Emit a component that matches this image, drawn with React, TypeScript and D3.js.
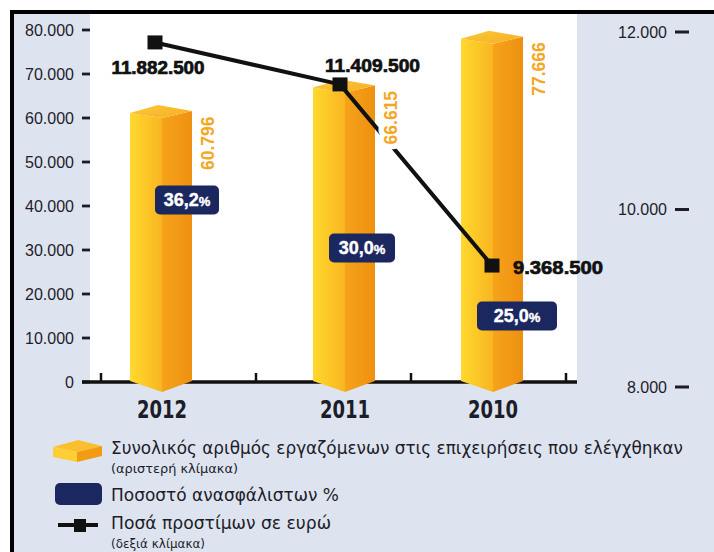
import React from 'react';
import * as d3 from 'd3';

// ---------- data ----------
const years = ['2012', '2011', '2010'];
const employees = [60796, 66615, 77666]; // left scale
const uninsuredPct = [36.2, 30.0, 25.0]; // %
const fines = [11882500, 11409500, 9368500]; // euros, right scale (thousands)
const leftTicks = [0, 10000, 20000, 30000, 40000, 50000, 60000, 70000, 80000];
const rightTicks = [8000, 10000, 12000];
const legendMain = [
  'Συνολικός αριθμός εργαζόμενων στις επιχειρήσεις που ελέγχθηκαν',
  'Ποσοστό ανασφάλιστων %',
  'Ποσά προστίμων σε ευρώ',
];
const legendSub = ['(αριστερή κλίμακα)', '', '(δεξιά κλίμακα)'];

// ---------- layout ----------
const W = 714;
const H = 552;
const BG = '#dde4f0';
const NAVY = '#1b275f';
const ORANGE_TXT = '#f5a623';
const DARK = '#1d1d29';
const NARROW = "'Liberation Sans Narrow', 'DejaVu Sans Condensed', 'Liberation Sans', sans-serif";
const SANS = "'Liberation Sans', Arial, sans-serif";

const locale = d3.formatLocale({ decimal: ',', thousands: '.', grouping: [3], currency: ['', '€'] });
const fmtInt = locale.format(',d');
const fmtPct = locale.format('.1f');

const yL = d3.scaleLinear().domain([0, 80000]).range([382, 30]);
const yR = d3.scaleLinear().domain([8000, 12000]).range([387, 32]);
const xBar = d3.scaleOrdinal<string, number>().domain(years).range([162, 345, 493]);
const xLine = d3.scaleOrdinal<string, number>().domain(years).range([155, 340, 492]);
const xPct = d3.scaleOrdinal<string, number>().domain(years).range([187, 362, 517]);
const yPct = d3.scaleLinear().domain([25, 30, 36.2]).range([316, 248, 200]);
const pctBoxW = d3.scaleOrdinal<string, number>().domain(years).range([64, 66, 80]);
const xAxisTicks = d3.scaleLinear().domain([0, 3]).range([101, 566]);

const lineLabelPlace = [
  { dx: 3, dy: 32, anchor: 'middle', len: 93 },
  { dx: -15, dy: -12, anchor: 'start', len: 95 },
  { dx: 21, dy: 8, anchor: 'start', len: 90 },
];
const legendMainY = [454, 501, 529];
const legendMainLen = [572, 228, 220];
const legendSubY = [473, 0, 548];
const legendSubLen = [127, 0, 94];

function Bar({ year, value }: { year: string; value: number }) {
  const cx = xBar(year);
  const y = yL(value);
  const l = cx - 32;
  const r = cx + 30;
  const base = yL(0);
  const pts = (a: [number, number][]) => a.map((p) => p.join(',')).join(' ');
  return (
    <g>
      <polygon points={pts([[l, y - 1.5], [cx, y + 3.5], [cx, base + 10], [l, base - 1]])} fill="url(#gLeft)" />
      <polygon points={pts([[cx, y + 3.5], [r, y - 3.5], [r, base - 1], [cx, base + 10]])} fill="url(#gRight)" />
      <polygon points={pts([[l, y - 1.5], [cx - 4, y - 9.5], [r, y - 3.5], [cx, y + 3.5]])} fill="url(#gTop)" />
    </g>
  );
}

export default function App() {
  const linePath = d3
    .line<number>()
    .x((_, i) => xLine(years[i]))
    .y((d) => yR(d / 1000))(fines);

  return (
    <svg width={W} height={H} style={{ position: 'absolute', left: 0, top: 0 }} xmlns="http://www.w3.org/2000/svg">
      <defs>
        <linearGradient id="gLeft" x1="0" y1="0" x2="1" y2="0">
          <stop offset="0" stopColor="#ffd92e" />
          <stop offset="1" stopColor="#f9b521" />
        </linearGradient>
        <linearGradient id="gRight" x1="0" y1="0" x2="1" y2="0">
          <stop offset="0" stopColor="#f6a31a" />
          <stop offset="1" stopColor="#ee9011" />
        </linearGradient>
        <linearGradient id="gTop" x1="0" y1="0" x2="1" y2="1">
          <stop offset="0" stopColor="#fcc83a" />
          <stop offset="1" stopColor="#f7ae22" />
        </linearGradient>
      </defs>

      {/* backgrounds + frame */}
      <rect x={0} y={0} width={W} height={H} fill="#ffffff" />
      <rect x={10} y={10} width={W - 10} height={H - 10} fill={BG} />
      <rect x={90} y={14} width={487} height={yL(0) - 14} fill="#ffffff" />
      <rect x={10} y={10} width={W - 10} height={4} fill="#000" />
      <rect x={10} y={10} width={4} height={H - 10} fill="#000" />

      {/* left axis */}
      {leftTicks.map((t) => (
        <g key={t}>
          <line x1={82} x2={90} y1={yL(t)} y2={yL(t)} stroke={DARK} strokeWidth={2.8} />
          <text x={74} y={yL(t)} dy="0.36em" textAnchor="end" fontFamily={SANS} fontSize={16} fill={DARK}>
            {fmtInt(t)}
          </text>
        </g>
      ))}

      {/* right axis */}
      {rightTicks.map((t) => (
        <g key={t}>
          <line x1={675} x2={689} y1={yR(t)} y2={yR(t)} stroke={DARK} strokeWidth={3} />
          <text x={667} y={yR(t)} dy="0.36em" textAnchor="end" fontFamily={SANS} fontSize={16} fill={DARK}>
            {fmtInt(t)}
          </text>
        </g>
      ))}

      {/* x axis */}
      <line x1={82} x2={577} y1={yL(0)} y2={yL(0)} stroke="#111" strokeWidth={3.5} />
      {d3.range(4).map((i) => (
        <line key={i} x1={xAxisTicks(i)} x2={xAxisTicks(i)} y1={yL(0) - 9} y2={yL(0)} stroke="#111" strokeWidth={2.5} />
      ))}

      {/* bars */}
      {years.map((yr, i) => (
        <Bar key={yr} year={yr} value={employees[i]} />
      ))}

      {/* line */}
      <path d={linePath || ''} fill="none" stroke="#111" strokeWidth={4} strokeLinejoin="round" />

      {/* rotated bar values (with white halo) */}
      {years.map((yr, i) => {
        const x = xBar(yr) + 46;
        const y = yL(employees[i]) + 2;
        return (
          <text
            key={yr}
            transform={`translate(${x},${y}) rotate(-90)`}
            textAnchor="end"
            dy="0.36em"
            fontFamily={SANS}
            fontWeight="bold"
            fontSize={17.5}
            fill={ORANGE_TXT}
            stroke="#ffffff"
            strokeWidth={11}
            strokeLinejoin="round"
            style={{ paintOrder: 'stroke' }}
          >
            {fmtInt(employees[i])}
          </text>
        );
      })}

      {/* markers */}
      {years.map((yr, i) => (
        <rect key={yr} x={xLine(yr) - 7.5} y={yR(fines[i] / 1000) - 7} width={15} height={14} fill="#111" />
      ))}

      {/* line labels */}
      {years.map((yr, i) => (
        <text
          key={yr}
          x={xLine(yr) + lineLabelPlace[i].dx}
          y={yR(fines[i] / 1000) + lineLabelPlace[i].dy}
          textAnchor={lineLabelPlace[i].anchor as any}
          fontFamily={SANS}
          fontWeight="bold"
          fontSize={18}
          textLength={lineLabelPlace[i].len}
          lengthAdjust="spacingAndGlyphs"
          fill="#111"
          stroke="#111"
          strokeWidth={0.7}
        >
          {fmtInt(fines[i])}
        </text>
      ))}

      {/* percentage boxes */}
      {years.map((yr, i) => {
        const cx = xPct(yr);
        const cy = yPct(uninsuredPct[i]);
        const w = pctBoxW(yr);
        return (
          <g key={yr}>
            <rect x={cx - w / 2} y={cy - 14.5} width={w} height={29} rx={5} fill={NAVY} />
            <text
              x={cx}
              y={cy}
              dy="0.36em"
              textAnchor="middle"
              fontFamily={SANS}
              fontWeight="bold"
              fontSize={18}
              fill="#fff"
              stroke="#fff"
              strokeWidth={0.4}
            >
              {fmtPct(uninsuredPct[i])}
              <tspan fontSize={13}>%</tspan>
            </text>
          </g>
        );
      })}

      {/* category labels */}
      {years.map((yr) => (
        <text
          key={yr}
          x={xBar(yr)}
          y={418}
          textAnchor="middle"
          fontFamily={NARROW}
          fontWeight="bold"
          fontSize={25}
          textLength={50}
          lengthAdjust="spacingAndGlyphs"
          fill={DARK}
        >
          {yr}
        </text>
      ))}

      {/* legend */}
      <g>
        <polygon points="53,447 78,440 102,446 77,452" fill="#fbbf2e" />
        <polygon points="53,447 77,452 77,462 53,457" fill="#fcd034" />
        <polygon points="77,452 102,446 102,456 77,462" fill="#f39c12" />
        {legendMain.map((t, i) => (
          <text
            key={t}
            x={111}
            y={legendMainY[i]}
            fontFamily={NARROW}
            fontSize={18}
            textLength={legendMainLen[i]}
            lengthAdjust="spacingAndGlyphs"
            fill={DARK}
          >
            {t}
          </text>
        ))}
        {legendSub.map((t, i) =>
          t ? (
            <text
              key={t}
              x={111}
              y={legendSubY[i]}
              fontFamily={NARROW}
              fontSize={13}
              textLength={legendSubLen[i]}
              lengthAdjust="spacingAndGlyphs"
              fill={DARK}
            >
              {t}
            </text>
          ) : null
        )}

        <rect x={55} y={483} width={47} height={22} rx={5} fill={NAVY} />
        <line x1={58} x2={98} y1={525} y2={525} stroke="#111" strokeWidth={4} />
        <rect x={74} y={519} width={12} height={13} fill="#111" />
      </g>
    </svg>
  );
}
